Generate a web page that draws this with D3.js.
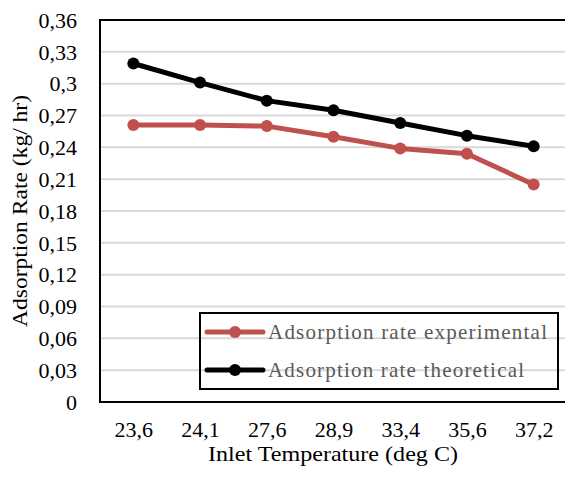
<!DOCTYPE html>
<html><head><meta charset="utf-8">
<script src="https://cdn.jsdelivr.net/npm/d3@7"></script>
<style>body{margin:0;background:#fff}svg{display:block}text{font-family:'Liberation Serif','Times New Roman',serif}</style>
</head><body>
<svg id="c" width="565" height="477"></svg>
<script>
const categories = ["23,6","24,1","27,6","28,9","33,4","35,6","37,2"];
const experimental = [0.261,0.261,0.260,0.250,0.239,0.234,0.205];
const theoretical = [0.319,0.301,0.284,0.275,0.263,0.251,0.241];
const yTicks = [0,0.03,0.06,0.09,0.12,0.15,0.18,0.21,0.24,0.27,0.30,0.33,0.36];
const seriesNames = ["Adsorption rate experimental","Adsorption rate theoretical"];
const seriesColors = ["#c0504d","#000000"];

const svg = d3.select("#c");
const L=100, T=20, R=567, B=402;
const x = d3.scalePoint().domain(categories).range([L,R]).padding(0.5);
const y = d3.scaleLinear().domain([0,0.36]).range([B,T]);
const font = "'Liberation Serif','Times New Roman',serif";
const fmt = v => v===0 ? "0" : d3.format(".2~f")(v).replace(".",",");

// grid
svg.append("g").selectAll("line").data(yTicks.slice(1)).join("line")
  .attr("x1",L).attr("x2",R).attr("y1",d=>y(d)).attr("y2",d=>y(d))
  .attr("stroke","#d9d9d9").attr("stroke-width",2);

// y axis labels
const yAxis = d3.axisLeft(y).tickValues(yTicks).tickFormat(fmt).tickSize(0).tickPadding(23);
const gy = svg.append("g").attr("transform",`translate(${L},0)`).call(yAxis);
gy.attr("font-family",font);
gy.select(".domain").remove();
gy.selectAll("text").style("font-family",font).attr("font-size",22).attr("fill","#000").attr("dy","0.33em");

// x axis labels
const xAxis = d3.axisBottom(x).tickSize(0).tickPadding(19);
const gx = svg.append("g").attr("transform",`translate(0,${B})`).call(xAxis);
gx.attr("font-family",font);
gx.select(".domain").remove();
gx.selectAll("text").style("font-family",font).attr("font-size",22).attr("fill","#000");

// frame
svg.append("rect").attr("x",L).attr("y",T).attr("width",R-L).attr("height",B-T)
  .attr("fill","none").attr("stroke","#000").attr("stroke-width",2);

// lines
const line = d3.line().x((d,i)=>x(categories[i])).y(d=>y(d));
[experimental, theoretical].forEach((s,k)=>{
  const g = svg.append("g");
  g.append("path").datum(s).attr("d",line).attr("fill","none")
    .attr("stroke",seriesColors[k]).attr("stroke-width",5).attr("stroke-linejoin","round");
  g.selectAll("circle").data(s).join("circle")
    .attr("cx",(d,i)=>x(categories[i])).attr("cy",d=>y(d)).attr("r",6)
    .attr("fill",seriesColors[k]);
});

// legend
const lg = svg.append("g");
lg.append("rect").attr("x",200).attr("y",313).attr("width",358).attr("height",76)
  .attr("fill","none").attr("stroke","#000").attr("stroke-width",2);
seriesNames.forEach((n,k)=>{
  const yy = 332 + k*38;
  lg.append("line").attr("x1",207).attr("x2",263).attr("y1",yy).attr("y2",yy)
    .attr("stroke",seriesColors[k]).attr("stroke-width",5).attr("stroke-linecap","round");
  lg.append("circle").attr("cx",235).attr("cy",yy).attr("r",6).attr("fill",seriesColors[k]);
  lg.append("text").attr("x",268).attr("y",yy+7).text(n)
    .attr("font-size",21).attr("fill","#595959")
    .attr("textLength",k===0?279:256).attr("lengthAdjust","spacing");
});

// titles
svg.append("text").attr("x",333).attr("y",461).attr("text-anchor","middle")
  .attr("font-size",22).attr("textLength",250).attr("lengthAdjust","spacingAndGlyphs")
  .text("Inlet Temperature (deg C)");
svg.append("text").attr("transform","translate(27,211) rotate(-90)").attr("text-anchor","middle")
  .attr("font-size",22).attr("textLength",232).attr("lengthAdjust","spacingAndGlyphs")
  .text("Adsorption Rate (kg/ hr)");
</script>
</body></html>
